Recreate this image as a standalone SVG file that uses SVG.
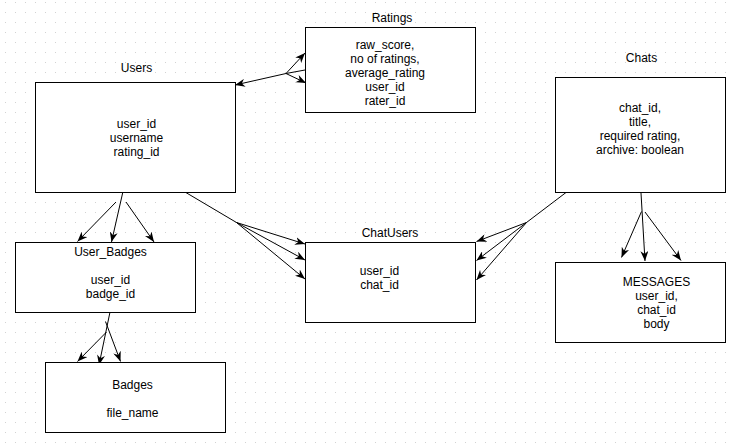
<svg xmlns="http://www.w3.org/2000/svg" width="731" height="446" viewBox="0 0 731 446">
  <defs>
    <pattern id="grid" x="0" y="0" width="10" height="10" patternUnits="userSpaceOnUse">
      <rect x="5" y="2" width="1" height="1" fill="#d2d2d2"/>
    </pattern>
    <marker id="arrow" viewBox="0 0 10 8" refX="10" refY="4" markerWidth="10" markerHeight="8" markerUnits="userSpaceOnUse" orient="auto">
      <path d="M0,0 L10,4 L0,8 L3,4 Z" fill="#000"/>
    </marker>
  </defs>
  <style>
    .box { fill: #fff; stroke: #000; stroke-width: 1; }
    .lbl { font-family: "Liberation Sans", Arial, sans-serif; font-size: 12px; fill: #000; text-anchor: middle; }
    .ln { fill: none; stroke: #000; stroke-width: 1; }
    .ar { fill: none; stroke: #000; stroke-width: 1; marker-end: url(#arrow); }
  </style>

  <rect width="731" height="446" fill="#fff"/>
  <rect width="731" height="446" fill="url(#grid)"/>

  <!-- relationship lines with crow's-foot arrow fans -->
  <g id="connectors">
    <!-- Users / Ratings -->
    <path class="ln" d="M305,70 L286,73.5"/>
    <path class="ar" d="M286,73.5 L235,85"/>
    <path class="ar" d="M286,73.5 L305,53"/>
    <path class="ar" d="M286,73.5 L306,83"/>
    <!-- Users / User_Badges -->
    <path class="ar" d="M124,187 L111.5,242"/>
    <path class="ar" d="M116,202 L77.5,241.5"/>
    <path class="ar" d="M126,202 L154,242"/>
    <!-- User_Badges / Badges -->
    <path class="ar" d="M110,312 L99,365"/>
    <path class="ar" d="M106.5,332 L77.5,361.5"/>
    <path class="ar" d="M105.5,321.5 L120.5,361.5"/>
    <!-- Users / ChatUsers -->
    <path class="ln" d="M185,192 L236.5,222.5"/>
    <path class="ar" d="M236.5,222.5 L305,244"/>
    <path class="ar" d="M236.5,222.5 L305,260"/>
    <path class="ar" d="M236.5,222.5 L305,279"/>
    <!-- Chats / ChatUsers -->
    <path class="ln" d="M566,192.5 L526.5,222.5"/>
    <path class="ar" d="M526.5,222.5 L476.5,241.5"/>
    <path class="ar" d="M526.5,222.5 L476.5,260.5"/>
    <path class="ar" d="M526.5,222.5 L476.5,280"/>
    <!-- Chats / MESSAGES -->
    <path class="ar" d="M641,193 L645,261"/>
    <path class="ar" d="M641.5,211.5 L621.5,257.5"/>
    <path class="ar" d="M645,212 L681,260.5"/>
  </g>

  <g id="ratings">
    <rect class="box" x="305.5" y="27.5" width="170" height="85"/>
    <text class="lbl" x="392" y="22">Ratings</text>
    <text class="lbl" x="385" y="49">raw_score,</text>
    <text class="lbl" x="385" y="63">no of ratings,</text>
    <text class="lbl" x="385" y="77">average_rating</text>
    <text class="lbl" x="385" y="91">user_id</text>
    <text class="lbl" x="385" y="105">rater_id</text>
  </g>

  <g id="users">
    <rect class="box" x="35.5" y="82.5" width="200" height="110"/>
    <text class="lbl" x="136.5" y="71.5">Users</text>
    <text class="lbl" x="136.5" y="128">user_id</text>
    <text class="lbl" x="136.5" y="142">username</text>
    <text class="lbl" x="136.5" y="156">rating_id</text>
  </g>

  <g id="chats">
    <rect class="box" x="555.5" y="77.5" width="170" height="115"/>
    <text class="lbl" x="641.5" y="62">Chats</text>
    <text class="lbl" x="640" y="111.5">chat_id,</text>
    <text class="lbl" x="640" y="125.5">title,</text>
    <text class="lbl" x="640" y="139.5">required rating,</text>
    <text class="lbl" x="640" y="153.5">archive: boolean</text>
  </g>

  <g id="user_badges">
    <rect class="box" x="15.5" y="242.5" width="180" height="70"/>
    <text class="lbl" x="110.5" y="255.5">User_Badges</text>
    <text class="lbl" x="110.5" y="283.5">user_id</text>
    <text class="lbl" x="110.5" y="297.5">badge_id</text>
  </g>

  <g id="chatusers">
    <rect class="box" x="305.5" y="242.5" width="170" height="80"/>
    <text class="lbl" x="390" y="237">ChatUsers</text>
    <text class="lbl" x="379.5" y="275">user_id</text>
    <text class="lbl" x="379.5" y="289">chat_id</text>
  </g>

  <g id="messages">
    <rect class="box" x="555.5" y="262.5" width="170" height="80"/>
    <text class="lbl" x="656.5" y="286">MESSAGES</text>
    <text class="lbl" x="656.5" y="300">user_id,</text>
    <text class="lbl" x="656.5" y="314">chat_id</text>
    <text class="lbl" x="656.5" y="328">body</text>
  </g>

  <g id="badges">
    <rect class="box" x="45.5" y="362.5" width="180" height="70"/>
    <text class="lbl" x="132.5" y="388.5">Badges</text>
    <text class="lbl" x="132.5" y="416.5">file_name</text>
  </g>
</svg>
